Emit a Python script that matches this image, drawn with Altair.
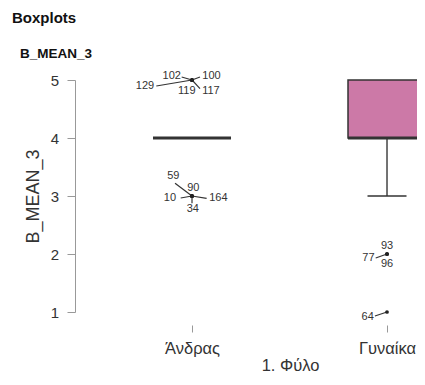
import altair as alt
import pandas as pd

FONT = "Liberation Sans"

# ---- data -------------------------------------------------------------
categories = ["Άνδρας", "Γυναίκα"]
cat_pos = [1, 2]
q1 = [4, 4]
median = [4, 4]
q3 = [4, 5]
whisker_low = [4, 3]
whisker_high = [4, 5]

out_pos = [1, 1, 1, 1, 1, 1, 1, 1, 1, 1, 2, 2, 2, 2]
out_value = [5, 5, 5, 5, 5, 3, 3, 3, 3, 3, 2, 2, 2, 1]
out_id = ["129", "102", "100", "119", "117", "59", "90", "10", "164", "34",
          "77", "93", "96", "64"]
# label placement (data units) and leader-line end points
label_x = [0.759, 0.896, 1.100, 0.973, 1.097, 0.904, 1.007, 0.887, 1.135, 1.004,
           1.905, 2.000, 2.000, 1.901]
label_y = [4.897, 5.069, 5.069, 4.805, 4.805, 3.345, 3.143, 2.960, 2.960, 2.771,
           1.931, 2.138, 1.833, 0.919]
leader_x = [0.817, 0.947, 1.041, 1.000, 1.041, 0.913, 1.000, 0.942, 1.075, 1.000,
            1.942, 2.000, 2.000, 1.938]
leader_y = [4.897, 5.052, 5.052, 5.000, 4.850, 3.219, 3.000, 2.966, 2.960, 2.874,
            1.931, 2.000, 2.000, 0.931]

box_df = pd.DataFrame({
    "cat": categories, "pos": cat_pos, "q1": q1, "median": median, "q3": q3,
    "wlo": whisker_low, "whi": whisker_high,
})
out_df = pd.DataFrame({
    "pos": out_pos, "value": out_value, "id": out_id,
    "lx": label_x, "ly": label_y, "ex": leader_x, "ey": leader_y,
})

# ---- scales & axes ----------------------------------------------------
x_scale = alt.Scale(domain=[0.4, 2.1538], nice=False, zero=False)
y_scale = alt.Scale(domain=[1, 5], nice=False, zero=False)

label_expr = "[" + ",".join("'" + c + "'" for c in categories) + "][datum.value - 1]"

x_axis = alt.Axis(
    values=cat_pos, labelExpr=label_expr, title="1. Φύλο", domain=False, grid=False,
    tickSize=7, tickColor="#999999", offset=13, labelFont=FONT, labelFontSize=16.5,
    labelColor="#333333", labelPadding=8, labelFlush=False, labelOverlap=False,
    titleFont=FONT, titleFontSize=16.5, titleFontWeight="normal", titleColor="#333333",
    titlePadding=1, titleX=215,
)
y_axis = alt.Axis(
    values=[1, 2, 3, 4, 5], format="d", title="B_MEAN_3", grid=False,
    domainColor="#999999", tickColor="#999999", tickSize=8, labelFont=FONT,
    labelFontSize=15, labelColor="#333333", labelPadding=8.5, labelFlush=False,
    titleFont=FONT, titleFontSize=18, titleFontWeight="normal", titleColor="#333333",
    titleX=-37, titleY=116, titleAlign="center", titleBaseline="alphabetic",
)

base_box = alt.Chart(box_df).transform_calculate(
    lo="datum.pos - 0.2", hi="datum.pos + 0.2",
    clo="datum.pos - 0.1", chi="datum.pos + 0.1",
)

whisk_lo = base_box.mark_rule(color="#444444", strokeWidth=1.5).encode(
    x=alt.X("pos:Q", scale=x_scale, axis=x_axis),
    y=alt.Y("wlo:Q", scale=y_scale, axis=y_axis),
    y2="q1:Q",
)
whisk_hi = base_box.mark_rule(color="#444444", strokeWidth=1.5).encode(
    x=alt.X("pos:Q", scale=x_scale, axis=x_axis),
    y=alt.Y("q3:Q", scale=y_scale, axis=y_axis),
    y2="whi:Q",
)
cap_lo = base_box.mark_rule(color="#333333", strokeWidth=1.5).encode(
    x=alt.X("clo:Q", scale=x_scale, axis=x_axis),
    x2="chi:Q",
    y=alt.Y("wlo:Q", scale=y_scale, axis=y_axis),
)
boxes = base_box.mark_rect(fill="#CC79A7", stroke="#333333", strokeWidth=1.5).encode(
    x=alt.X("lo:Q", scale=x_scale, axis=x_axis),
    x2="hi:Q",
    y=alt.Y("q1:Q", scale=y_scale, axis=y_axis),
    y2="q3:Q",
)
medians = base_box.mark_rule(color="#333333", strokeWidth=3).encode(
    x=alt.X("lo:Q", scale=x_scale, axis=x_axis),
    x2="hi:Q",
    y=alt.Y("median:Q", scale=y_scale, axis=y_axis),
)

base_out = alt.Chart(out_df)
leaders = base_out.mark_rule(color="#333333", strokeWidth=1.2).encode(
    x=alt.X("pos:Q", scale=x_scale, axis=x_axis),
    x2="ex:Q",
    y=alt.Y("value:Q", scale=y_scale, axis=y_axis),
    y2="ey:Q",
)
points = base_out.mark_point(filled=True, size=14, color="#222222", opacity=1).encode(
    x=alt.X("pos:Q", scale=x_scale, axis=x_axis),
    y=alt.Y("value:Q", scale=y_scale, axis=y_axis),
)
labels = base_out.mark_text(font=FONT, fontSize=11, color="#333333",
                            align="center", baseline="middle").encode(
    x=alt.X("lx:Q", scale=x_scale, axis=x_axis),
    y=alt.Y("ly:Q", scale=y_scale, axis=y_axis),
    text="id:N",
)

title_txt = alt.Chart(pd.DataFrame({"t": ["Boxplots"]})).mark_text(
    font=FONT, fontSize=15, fontWeight="bold", color="#111111",
    align="left", baseline="alphabetic",
).encode(x=alt.value(-63), y=alt.value(-57), text="t:N")
sub_txt = alt.Chart(pd.DataFrame({"t": ["B_MEAN_3"]})).mark_text(
    font=FONT, fontSize=13.5, fontWeight="bold", color="#111111",
    align="left", baseline="alphabetic",
).encode(x=alt.value(-55), y=alt.value(-22.5), text="t:N")

chart = alt.layer(
    whisk_lo, whisk_hi, cap_lo, boxes, medians, leaders, points, labels,
    title_txt, sub_txt,
).properties(
    width=342, height=232,
    autosize=alt.AutoSizeParams(type="none"),
    padding={"left": 67, "top": 72, "right": 0, "bottom": 65},
    background="white",
).configure_view(stroke=None)

chart.save("out.html", embed_options={"renderer": "svg", "actions": False})
